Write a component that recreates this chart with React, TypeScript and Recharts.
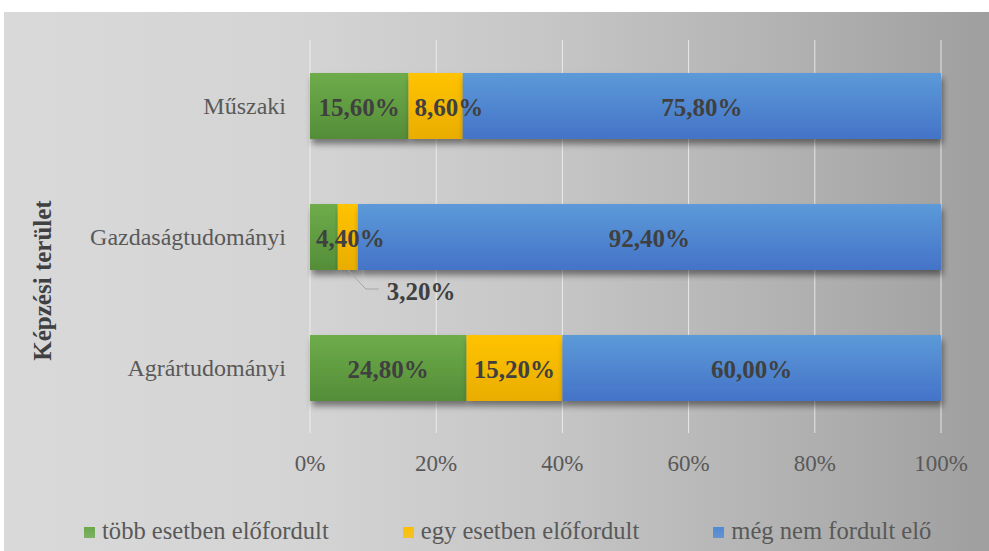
import React from "react";
import { BarChart, Bar, XAxis, YAxis, CartesianGrid, LabelList, Legend } from "recharts";

const categories = ["Műszaki", "Gazdaságtudományi", "Agrártudományi"];
const tobbValues = [15.6, 4.4, 24.8];
const egyValues = [8.6, 3.2, 15.2];
const megValues = [75.8, 92.4, 60.0];
const xTicks = [0, 20, 40, 60, 80, 100];
const seriesNames = ["több esetben előfordult", "egy esetben előfordult", "még nem fordult elő"];
const seriesKeys = ["tobb", "egy", "meg"];
const seriesColors = ["#6aa84a", "#fdbf00", "#4f89d4"];
const gradIds = ["gGreen", "gYellow", "gBlue"];

const data = categories.map((c, i) => ({
  name: c,
  tobb: tobbValues[i],
  egy: egyValues[i],
  meg: megValues[i],
}));

const FONT = "'Liberation Serif', 'Times New Roman', serif";
const fmt = (v: number) => v.toFixed(2).replace(".", ",") + "%";
const LABEL_SIZE = 25;
const textW = (s: string) => {
  let w = 0;
  for (const ch of s) {
    if (ch === ",") w += 0.25;
    else if (ch === "%") w += 1.0;
    else w += 0.5;
  }
  return w * LABEL_SIZE;
};

const makeLabel = (key: string) => (props: any) => {
  const vb = props.viewBox || props;
  const x = Number(vb.x ?? props.x);
  const y = Number(vb.y ?? props.y);
  const width = Number(vb.width ?? props.width);
  const height = Number(vb.height ?? props.height);
  const value = Number(props.value);
  if (!isFinite(x) || !isFinite(value)) return null;
  const text = fmt(value);
  const tw = textW(text);
  const cy = y + height / 2;
  if (key === "egy" && width < 24) {
    const sx = x + width / 2;
    const sy = y + height;
    return (
      <g>
        <polyline
          points={`${sx},${sy} ${sx + 18},${sy + 19} ${sx + 31},${sy + 19}`}
          fill="none"
          stroke="#a6a6a6"
          strokeWidth={1}
        />
        <text
          x={sx + 39}
          y={sy + 21}
          textAnchor="start"
          dominantBaseline="central"
          fontFamily={FONT}
          fontWeight="bold"
          fontSize={LABEL_SIZE}
          fill="#404040"
        >
          {text}
        </text>
      </g>
    );
  }
  const cx = Math.max(x + width / 2, x + tw / 2 + 6);
  return (
    <text
      x={cx}
      y={cy + 1}
      textAnchor="middle"
      dominantBaseline="central"
      fontFamily={FONT}
      fontWeight="bold"
      fontSize={LABEL_SIZE}
      fill="#404040"
    >
      {text}
    </text>
  );
};

const CategoryTick = (props: any) => {
  const { x, y, payload } = props;
  return (
    <text
      x={x - 16}
      y={y}
      textAnchor="end"
      dominantBaseline="central"
      fontFamily={FONT}
      fontSize={24}
      fill="#595959"
    >
      {payload.value}
    </text>
  );
};

const ValueTick = (props: any) => {
  const { x, y, payload } = props;
  return (
    <text
      x={x}
      y={y + 22}
      textAnchor="middle"
      dominantBaseline="central"
      fontFamily={FONT}
      fontSize={23}
      fill="#595959"
    >
      {payload.value + "%"}
    </text>
  );
};

const AxisTitle = (props: any) => {
  const vb = props.viewBox || {};
  const cx = vb.x + 42;
  const cy = vb.y + vb.height / 2 + 44;
  return (
    <text
      x={cx}
      y={cy}
      transform={`rotate(-90, ${cx}, ${cy})`}
      textAnchor="middle"
      dominantBaseline="central"
      fontFamily={FONT}
      fontWeight="bold"
      fontSize={25}
      fill="#404040"
    >
      Képzési terület
    </text>
  );
};

const renderLegend = () => (
  <div
    style={{
      display: "flex",
      alignItems: "center",
      height: 30,
      paddingLeft: 84,
      fontFamily: FONT,
      fontSize: 24.6,
      lineHeight: "30px",
      color: "#595959",
      whiteSpace: "nowrap",
    }}
  >
    {seriesNames.map((n, i) => (
      <div key={n} style={{ display: "flex", alignItems: "center", marginRight: i < 2 ? 74 : 0, fontFamily: FONT }}>
        <div
          style={{
            width: 11,
            height: 11,
            background: `linear-gradient(to bottom, ${seriesColors[i]}, ${seriesColors[i]}cc)`,
            marginRight: 7,
            marginTop: 3,
          }}
        />
        <span style={{ fontFamily: FONT }}>{n}</span>
      </div>
    ))}
  </div>
);

const ShadowBar = (props: any) => {
  const { x, y, width, height, fill } = props;
  if (!(width > 0)) return null;
  return <rect x={x} y={y} width={width} height={height} fill={fill} filter="url(#barShadow)" />;
};

export default function App() {
  return (
    <div style={{ position: "absolute", left: 0, top: 0, width: 989, height: 551, background: "#ffffff", fontFamily: FONT }}>
      <div
        style={{
          position: "absolute",
          left: 4,
          top: 12,
          width: 985,
          height: 539,
          background:
            "linear-gradient(to right, #d9d9d9 0%, #d4d4d4 30%, #c6c6c6 55%, #b3b3b3 78%, #9f9f9f 100%)",
        }}
      />
      <div style={{ position: "absolute", left: 0, top: 0 }}>
        <BarChart
          width={989}
          height={551}
          data={data}
          layout="vertical"
          margin={{ top: 40, right: 48, bottom: 58, left: 0 }}
          barSize={66}
        >
          <defs>
            <linearGradient id="gGreen" x1="0" y1="0" x2="0" y2="1">
              <stop offset="0%" stopColor="#6eac4b" />
              <stop offset="100%" stopColor="#548d38" />
            </linearGradient>
            <linearGradient id="gYellow" x1="0" y1="0" x2="0" y2="1">
              <stop offset="0%" stopColor="#ffc300" />
              <stop offset="100%" stopColor="#e9ad00" />
            </linearGradient>
            <linearGradient id="gBlue" x1="0" y1="0" x2="0" y2="1">
              <stop offset="0%" stopColor="#5c9ad8" />
              <stop offset="100%" stopColor="#4473c8" />
            </linearGradient>
            <filter id="barShadow" x="-10%" y="-20%" width="130%" height="160%">
              <feDropShadow dx="2" dy="5" stdDeviation="3" floodColor="#000000" floodOpacity="0.45" />
            </filter>
          </defs>
          <CartesianGrid horizontal={false} vertical={true} stroke="#f2f2f2" strokeOpacity={0.85} />
          <XAxis
            type="number"
            domain={[0, 100]}
            ticks={xTicks}
            axisLine={false}
            tickLine={false}
            tick={<ValueTick />}
            interval={0}
            height={30}
          />
          <YAxis
            type="category"
            dataKey="name"
            width={310}
            axisLine={false}
            tickLine={false}
            tick={<CategoryTick />}
            label={<AxisTitle />}
          />
          <Legend
            verticalAlign="bottom"
            align="left"
            content={renderLegend}
            wrapperStyle={{ left: 0, bottom: 5, width: 989, height: 30, fontFamily: FONT }}
          />
          {seriesKeys.map((k, i) => (
            <Bar
              key={k}
              dataKey={k}
              name={seriesNames[i]}
              stackId="a"
              fill={`url(#${gradIds[i]})`}
              isAnimationActive={false}
              shape={<ShadowBar />}
            >
              <LabelList dataKey={k} content={makeLabel(k)} />
            </Bar>
          ))}
        </BarChart>
      </div>
    </div>
  );
}
